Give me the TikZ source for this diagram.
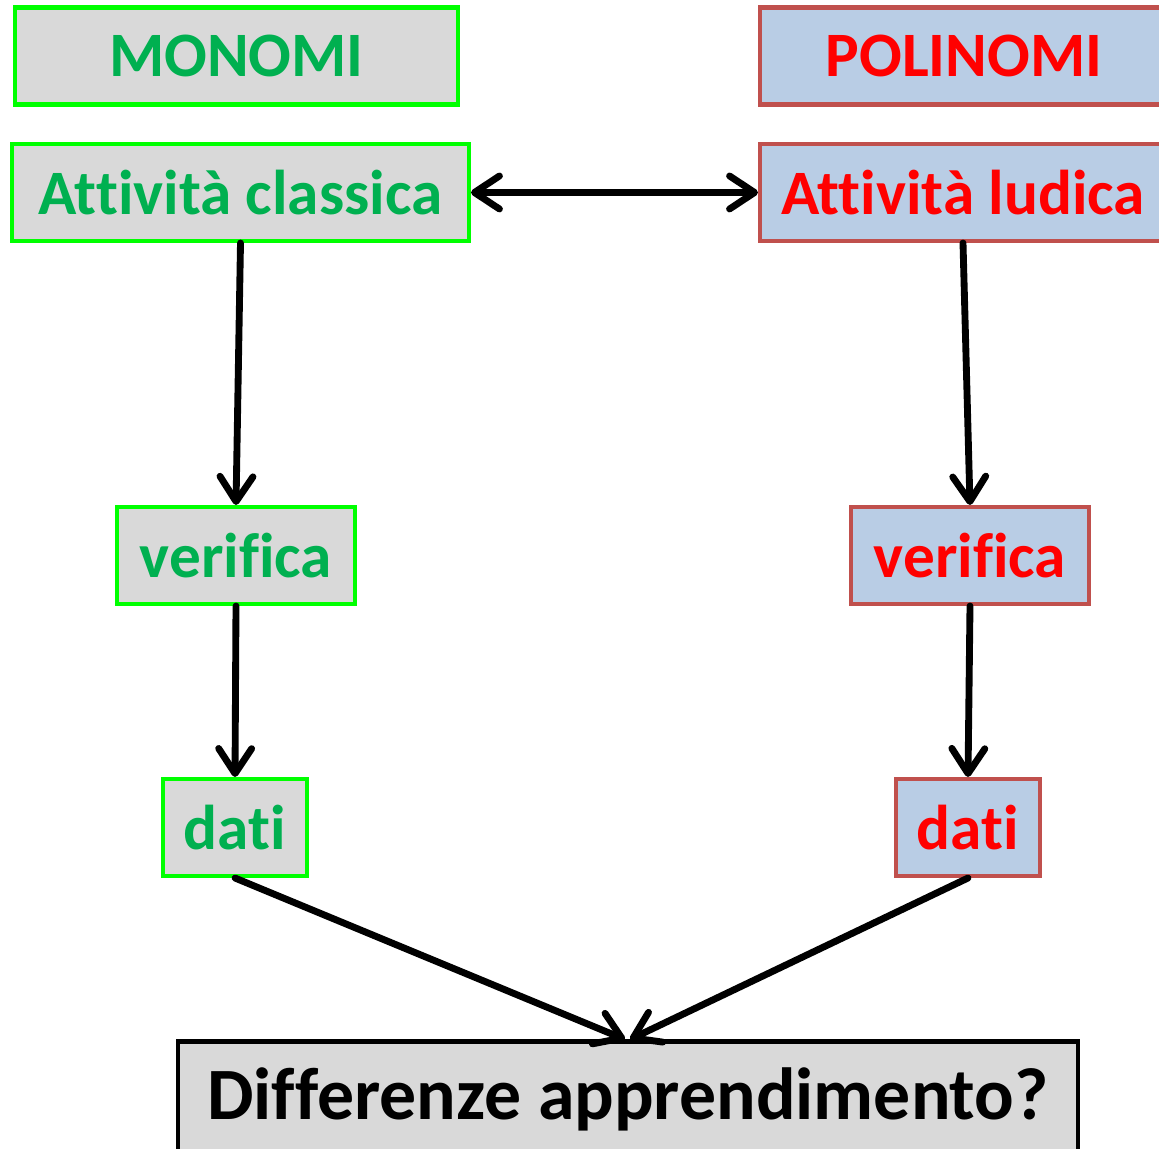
\documentclass[tikz,border=0pt]{standalone}
\usepackage{fontspec}
\setmainfont{Carlito}[Ligatures=NoCommon]
\usepackage{xcolor}
\usetikzlibrary{arrows.meta, positioning}
\definecolor{boxgray}{RGB}{217,217,217}
\definecolor{boxblue}{RGB}{185,205,229}
\definecolor{monogreen}{RGB}{0,255,0}
\definecolor{monotext}{RGB}{0,176,80}
\definecolor{polyred}{RGB}{192,80,77}
\definecolor{polytext}{RGB}{255,0,0}
\tikzset{
  monobox/.style={
    rectangle, inner sep=0pt, minimum height=1.94cm,
    draw=monogreen, line width=2.3pt, fill=boxgray, text centered,
    font=\fontsize{36}{40}\selectfont\bfseries, text=monotext
  },
  polybox/.style={
    rectangle, inner sep=0pt, minimum height=1.94cm,
    draw=polyred, line width=2.3pt, fill=boxblue, text centered,
    font=\fontsize{36}{40}\selectfont\bfseries, text=polytext
  },
  resultbox/.style={
    rectangle, inner sep=0pt, minimum width=18cm, minimum height=2.3cm,
    draw=black, line width=2.3pt, fill=boxgray, text centered,
    font=\fontsize{42}{46}\selectfont\bfseries, text=black
  },
  arrow/.style={-{Straight Barb[length=0.5cm, width=0.66cm, round]},
    line width=3.9pt, line cap=round, color=black},
  dblarrow/.style={{Straight Barb[length=0.5cm, width=0.66cm, round]}-{Straight Barb[length=0.5cm, width=0.66cm, round]},
    line width=3.9pt, color=black}
}
\begin{document}
\begin{tikzpicture}
  \clip (0,0) rectangle (23.18,22.98);

  % Monomi side
  \node[monobox, minimum width=8.86cm] (mono) at (4.73,21.86) {MONOMI};
  \node[monobox, minimum width=9.14cm] (mono_att) at (4.81,19.13)
    {Attività classica};
  \node[monobox, minimum width=4.76cm] (mono_ver) at (4.72,11.87)
    {verifica};
  \node[monobox, minimum width=2.88cm] (mono_dati) at (4.70,6.43)
    {dati};

  % Polinomi side
  \node[polybox, minimum width=8.16cm] (poly) at (19.28,21.86) {POLINOMI};
  \node[polybox, minimum width=8.12cm] (poly_att) at (19.26,19.13)
    {Attività ludica};
  \node[polybox, minimum width=4.76cm] (poly_ver) at (19.40,11.87)
    {verifica};
  \node[polybox, minimum width=2.88cm] (poly_dati) at (19.36,6.43)
    {dati};

  % Result
  \node[resultbox] (diff) at (12.56,1.0) {Differenze apprendimento?};

  \draw[dblarrow] (mono_att) -- (poly_att);
  \draw[arrow] (mono_att.south) -- (mono_ver.north);
  \draw[arrow] (mono_ver.south) -- (mono_dati.north);
  \draw[arrow] (poly_att.south) -- (poly_ver.north);
  \draw[arrow] (poly_ver.south) -- (poly_dati.north);
  \draw[arrow] (mono_dati.south) -- ([xshift=-0.06cm]diff.north);
  \draw[arrow] (poly_dati.south) -- ([xshift=0.04cm]diff.north);
\end{tikzpicture}
\end{document}
